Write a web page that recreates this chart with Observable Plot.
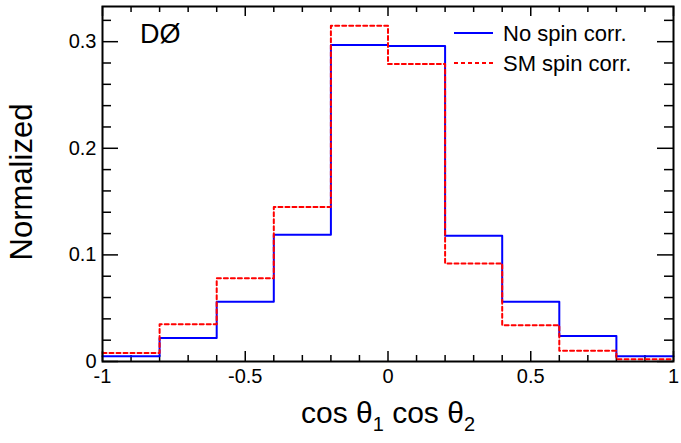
<!DOCTYPE html>
<html><head><meta charset="utf-8">
<script src="https://cdn.jsdelivr.net/npm/d3@7"></script>
<script src="https://cdn.jsdelivr.net/npm/@observablehq/plot@0.6"></script>
<style>body{margin:0;background:#fff} svg{display:block}</style>
</head><body><div id="chart"></div>
<script>
const binEdges = [-1, -0.8, -0.6, -0.4, -0.2, 0, 0.2, 0.4, 0.6, 0.8, 1];
const noSpinCorr = [0.005, 0.022, 0.056, 0.119, 0.297, 0.296, 0.118, 0.056, 0.024, 0.005];
const smSpinCorr = [0.008, 0.035, 0.078, 0.145, 0.315, 0.279, 0.092, 0.034, 0.010, 0.002];
const xTicks = [-1, -0.5, 0, 0.5, 1];
const xTickLabels = ["-1", "-0.5", "0", "0.5", "1"];
const xMinorTicks = [-0.9, -0.8, -0.7, -0.6, -0.4, -0.3, -0.2, -0.1, 0.1, 0.2, 0.3, 0.4, 0.6, 0.7, 0.8, 0.9];
const yTicks = [0, 0.1, 0.2, 0.3];
const yTickLabels = ["0", "0.1", "0.2", "0.3"];
const yMinorTicks = [0.02, 0.04, 0.06, 0.08, 0.12, 0.14, 0.16, 0.18, 0.22, 0.24, 0.26, 0.28, 0.32];
const seriesNames = ["No spin corr.", "SM spin corr."];
const seriesColors = ["#0000ff", "#ff0000"];
const experimentLabel = "DØ";
const yTitle = "Normalized";

function steps(vals) {
  const pts = vals.map((v, i) => ({x: binEdges[i], y: v}));
  pts.push({x: binEdges[binEdges.length - 1], y: vals[vals.length - 1]});
  return pts;
}
const FONT = "'Liberation Sans', Arial, Helvetica, sans-serif";
const W = 681, H = 443, ML = 102, MR = 8, MT = 6, MB = 82;
const FW = W - ML - MR, FH = H - MT - MB;
const X0 = -1, X1 = 1, Y0 = 0, Y1 = 0.333;
// convert a pixel tick length into the scale's data units
const yLen = px => px / FH * (Y1 - Y0);
const xLen = px => px / FW * (X1 - X0);
const XMAJ = 10, XMIN = 6, YMAJ = 16, YMIN = 9;
const tickStyle = {stroke: "#000", strokeWidth: 1.5};

const plot = Plot.plot({
  width: W, height: H,
  marginLeft: ML, marginRight: MR, marginTop: MT, marginBottom: MB,
  x: {domain: [X0, X1]},
  y: {domain: [Y0, Y1]},
  style: {fontFamily: FONT, color: "#000", background: "#fff", overflow: "visible"},
  marks: [
    // inward ticks: bottom & top
    Plot.ruleX(xTicks, {y1: Y0, y2: Y0 + yLen(XMAJ), ...tickStyle}),
    Plot.ruleX(xMinorTicks, {y1: Y0, y2: Y0 + yLen(XMIN), ...tickStyle}),
    Plot.ruleX(xTicks, {y1: Y1 - yLen(XMAJ), y2: Y1, ...tickStyle}),
    Plot.ruleX(xMinorTicks, {y1: Y1 - yLen(XMIN), y2: Y1, ...tickStyle}),
    // inward ticks: left & right
    Plot.ruleY(yTicks, {x1: X0, x2: X0 + xLen(YMAJ), ...tickStyle}),
    Plot.ruleY(yMinorTicks, {x1: X0, x2: X0 + xLen(YMIN), ...tickStyle}),
    Plot.ruleY(yTicks, {x1: X1 - xLen(YMAJ), x2: X1, ...tickStyle}),
    Plot.ruleY(yMinorTicks, {x1: X1 - xLen(YMIN), x2: X1, ...tickStyle}),
    // histograms
    Plot.lineY(steps(noSpinCorr), {x: "x", y: "y", curve: "step-after", stroke: seriesColors[0], strokeWidth: 2}),
    Plot.lineY(steps(smSpinCorr), {x: "x", y: "y", curve: "step-after", stroke: seriesColors[1], strokeWidth: 2, strokeDasharray: "4,3"}),
    // tick labels
    Plot.axisX(xTicks, {anchor: "bottom", tickSize: 0, tickPadding: 7, fontSize: 20, label: null,
      tickFormat: d => xTickLabels[xTicks.indexOf(d)]}),
    Plot.axisY(yTicks, {anchor: "left", tickSize: 0, tickPadding: 6, fontSize: 20, label: null,
      tickFormat: d => yTickLabels[yTicks.indexOf(d)]}),
    Plot.frame({stroke: "#000", strokeWidth: 2})
  ]
});
document.getElementById("chart").appendChild(plot);

const svg = d3.select(plot);
// x title with subscripts
const xt = svg.append("text").attr("x", 388).attr("y", 423).attr("text-anchor", "middle")
  .attr("font-family", FONT).attr("font-size", 30).attr("fill", "#000");
xt.append("tspan").text("cos θ");
xt.append("tspan").attr("dy", 8).attr("font-size", 20).text("1");
xt.append("tspan").attr("dy", -8).text(" cos θ");
xt.append("tspan").attr("dy", 8).attr("font-size", 20).text("2");
// y title
svg.append("text").attr("transform", "translate(32,182) rotate(-90)").attr("text-anchor", "middle")
  .attr("font-family", FONT).attr("font-size", 31).attr("fill", "#000").text(yTitle);
// experiment label
svg.append("text").attr("x", 140).attr("y", 43).attr("text-anchor", "start").attr("font-family", FONT).attr("font-size", 27)
  .attr("fill", "#000").text(experimentLabel);
// legend
const legY = [33, 63];
seriesNames.forEach((name, i) => {
  svg.append("line").attr("x1", 454).attr("x2", 493).attr("y1", legY[i]).attr("y2", legY[i])
    .attr("stroke", seriesColors[i]).attr("stroke-width", 2)
    .attr("stroke-dasharray", i === 1 ? "4,3" : null);
  svg.append("text").attr("x", 503).attr("y", legY[i]).attr("dy", "0.36em").attr("text-anchor", "start")
    .attr("font-family", FONT).attr("font-size", 22).attr("fill", "#000").text(name);
});
</script>
</body></html>
